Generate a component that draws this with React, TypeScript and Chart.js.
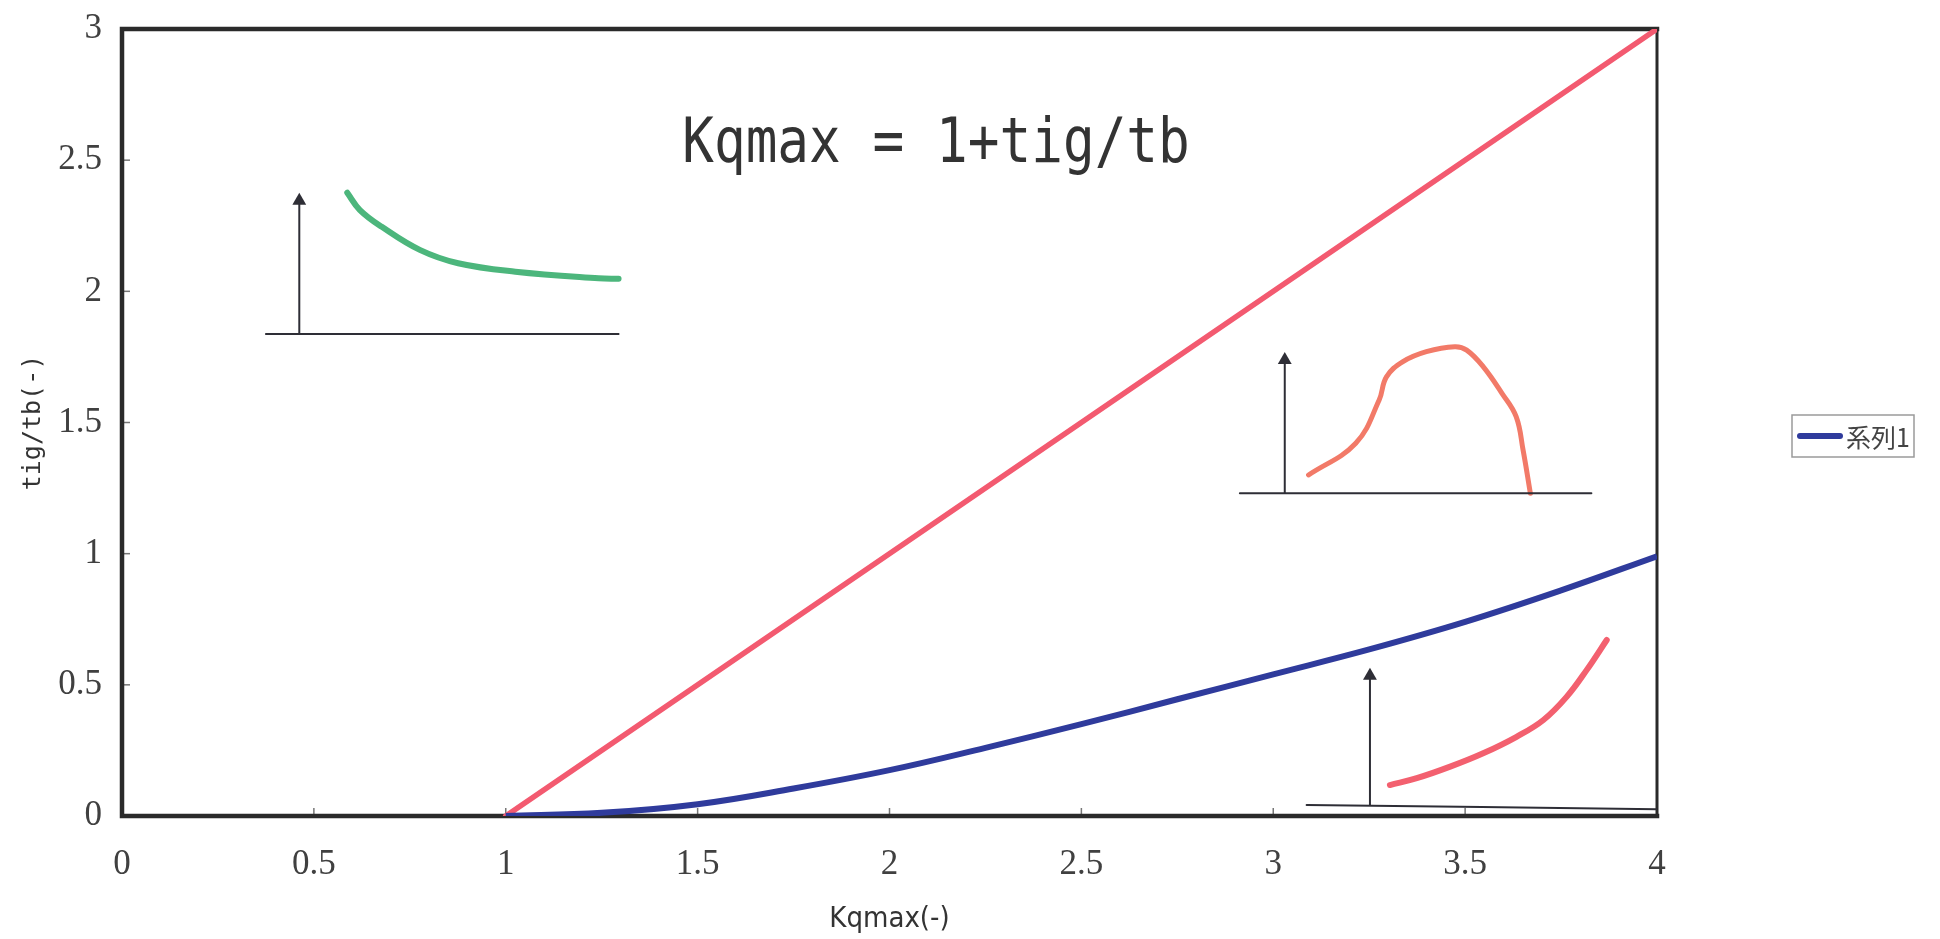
import React, { useEffect, useRef } from "react";
import { Chart, registerables } from "chart.js";

Chart.register(...registerables);

// ---- axis ticks ----
const xTickValues = [0, 0.5, 1, 1.5, 2, 2.5, 3, 3.5, 4];
const yTickValues = [0, 0.5, 1, 1.5, 2, 2.5, 3];

// ---- main series ----
const kqmax = [1, 1.25, 1.5, 1.75, 2, 2.25, 2.5, 2.75, 3, 3.25, 3.5, 3.75, 4];
const series1 = [0, 0.012, 0.045, 0.105, 0.175, 0.26, 0.35, 0.445, 0.54, 0.635, 0.74, 0.86, 0.99];
const seriesLabel = "系列1";

// boundary line Kqmax = 1 + tig/tb
const boundaryX = [1, 4.01];
const boundaryY = [0, 3.01];

// ---- inset sketch 1 (green, upper left) ----
const greenAxisX = [0.375, 1.294];
const greenAxisY = [1.837, 1.837];
const greenArrowX = [0.462, 0.462];
const greenArrowY = [1.837, 2.345];
const greenCurveX = [0.587, 0.62, 0.677, 0.776, 0.876, 1.025, 1.242, 1.294];
const greenCurveY = [2.376, 2.31, 2.246, 2.158, 2.107, 2.075, 2.05, 2.048];

// ---- inset sketch 2 (orange, middle right) ----
const orangeAxisX = [2.913, 3.829];
const orangeAxisY = [1.23, 1.23];
const orangeArrowX = [3.03, 3.03];
const orangeArrowY = [1.23, 1.738];
const orangeCurveX = [3.092, 3.215, 3.276, 3.295, 3.338, 3.399, 3.473, 3.504, 3.547, 3.596, 3.633, 3.651, 3.67];
const orangeCurveY = [1.3, 1.421, 1.586, 1.674, 1.732, 1.77, 1.789, 1.776, 1.713, 1.611, 1.522, 1.395, 1.23];

// ---- inset sketch 3 (red, lower right) ----
const redAxisX = [3.087, 3.999];
const redAxisY = [0.042, 0.026];
const redArrowX = [3.252, 3.252];
const redArrowY = [0.04, 0.535];
const redCurveX = [3.304, 3.374, 3.461, 3.547, 3.634, 3.704, 3.765, 3.817, 3.869];
const redCurveY = [0.118, 0.144, 0.188, 0.239, 0.302, 0.366, 0.455, 0.557, 0.671];

const formulaText = "Kqmax = 1+tig/tb";
const xTitle = "Kqmax(-)";
const yTitle = "tig/tb(-)";

const zip = (xs: number[], ys: number[]) => xs.map((x, i) => ({ x, y: ys[i] }));

const BLUE = "#2f3b9c";
const PINK = "#f35a70";
const GREEN = "#4cb67c";
const ORANGE = "#f27a68";
const RED2 = "#f3606f";
const INK = "#2e2e36";

const AREA = { left: 122, top: 29, right: 1657, bottom: 816 };

const sketchLine = (data: any[], color: string, width: number) => ({
  data,
  borderColor: color,
  backgroundColor: color,
  borderWidth: width,
  pointRadius: 0,
  tension: 0.4,
  borderCapStyle: "round" as const,
  borderJoinStyle: "round" as const,
  fill: false,
});

const arrow = (xs: number[], ys: number[]) => ({
  data: zip(xs, ys),
  borderColor: INK,
  backgroundColor: INK,
  borderWidth: 2,
  pointRadius: [0, 8],
  pointStyle: "triangle" as const,
  pointBorderWidth: 0,
  tension: 0,
  fill: false,
});

const decorPlugin = {
  id: "decor",
  beforeDatasetsDraw(chart: any) {
    const { ctx, chartArea: a, scales } = chart;
    ctx.save();
    ctx.strokeStyle = "#777";
    ctx.lineWidth = 1.5;
    xTickValues.forEach((v) => {
      const px = scales.x.getPixelForValue(v);
      ctx.beginPath();
      ctx.moveTo(px, a.bottom);
      ctx.lineTo(px, a.bottom - 8);
      ctx.stroke();
    });
    yTickValues.forEach((v) => {
      const py = scales.y.getPixelForValue(v);
      ctx.beginPath();
      ctx.moveTo(a.left, py);
      ctx.lineTo(a.left + 8, py);
      ctx.stroke();
    });
    ctx.strokeStyle = "#2a2a2a";
    ctx.lineCap = "square";
    ctx.lineWidth = 4.5;
    ctx.beginPath();
    ctx.moveTo(a.right, a.top);
    ctx.lineTo(a.left, a.top);
    ctx.lineTo(a.left, a.bottom);
    ctx.lineTo(a.right, a.bottom);
    ctx.stroke();
    ctx.lineWidth = 3;
    ctx.beginPath();
    ctx.moveTo(a.right, a.top);
    ctx.lineTo(a.right, a.bottom);
    ctx.stroke();
    ctx.restore();
  },
  afterDraw(chart: any) {
    const { ctx } = chart;
    ctx.save();
    ctx.fillStyle = "#333";
    ctx.textAlign = "center";
    ctx.textBaseline = "middle";
    ctx.font = "62px 'DejaVu Sans Mono'";
    ctx.translate(936, 146);
    ctx.scale(0.85, 1);
    ctx.fillText(formulaText, 0, 0);
    ctx.restore();

    const ds = chart.data.datasets[0];
    ctx.save();
    ctx.strokeStyle = "#9a9a9a";
    ctx.lineWidth = 1.5;
    ctx.strokeRect(1792, 415, 122, 42);
    ctx.strokeStyle = ds.borderColor;
    ctx.lineWidth = 6;
    ctx.lineCap = "round";
    ctx.beginPath();
    ctx.moveTo(1800, 436);
    ctx.lineTo(1840, 436);
    ctx.stroke();
    ctx.fillStyle = "#444";
    ctx.textAlign = "left";
    ctx.textBaseline = "middle";
    ctx.font = "25px 'Noto Sans CJK JP'";
    ctx.fillText(ds.label, 1846, 437);
    ctx.restore();
  },
};

export default function App() {
  const ref = useRef<HTMLCanvasElement | null>(null);

  useEffect(() => {
    if (!ref.current) return;
    const chart: any = new Chart(ref.current, {
      type: "line",
      data: {
        datasets: [
          {
            label: seriesLabel,
            data: zip(kqmax, series1),
            borderColor: BLUE,
            backgroundColor: BLUE,
            borderWidth: 6,
            pointRadius: 0,
            tension: 0.4,
            fill: false,
          },
          {
            label: "boundary",
            data: zip(boundaryX, boundaryY),
            borderColor: PINK,
            backgroundColor: PINK,
            borderWidth: 5.5,
            pointRadius: 0,
            tension: 0,
            borderCapStyle: "round",
            fill: false,
          },
          sketchLine(zip(greenAxisX, greenAxisY), INK, 2),
          arrow(greenArrowX, greenArrowY),
          sketchLine(zip(greenCurveX, greenCurveY), GREEN, 6),
          sketchLine(zip(orangeAxisX, orangeAxisY), INK, 2),
          arrow(orangeArrowX, orangeArrowY),
          sketchLine(zip(orangeCurveX, orangeCurveY), ORANGE, 5),
          sketchLine(zip(redAxisX, redAxisY), INK, 2),
          arrow(redArrowX, redArrowY),
          sketchLine(zip(redCurveX, redCurveY), RED2, 6),
        ] as any,
      },
      options: {
        responsive: false,
        maintainAspectRatio: false,
        animation: false,
        layout: { padding: { left: 0, top: AREA.top, right: 1940 - AREA.right, bottom: 0 } },
        plugins: {
          legend: { display: false },
          tooltip: { enabled: false },
        },
        elements: { line: { clip: false } as any },
        scales: {
          x: {
            type: "linear",
            min: 0,
            max: 4,
            afterBuildTicks: (s: any) => {
              s.ticks = xTickValues.map((v) => ({ value: v }));
            },
            afterFit: (s: any) => {
              s.height = 939 - AREA.bottom;
              s.paddingLeft = 0;
              s.paddingRight = 0;
            },
            grid: { display: false, drawTicks: false },
            border: { display: false },
            ticks: {
              autoSkip: false,
              maxRotation: 0,
              padding: 28,
              color: "#404040",
              font: { family: "'Liberation Serif', 'DejaVu Serif', serif", size: 35 },
              callback: (v: any) => String(v),
            },
            title: {
              display: true,
              text: xTitle,
              color: "#333",
              font: { family: "'Liberation Sans Narrow', 'DejaVu Sans Condensed', 'Roboto', sans-serif", size: 29 },
              padding: { top: 0, bottom: 2 },
            },
          },
          y: {
            type: "linear",
            min: 0,
            max: 3,
            afterBuildTicks: (s: any) => {
              s.ticks = yTickValues.map((v) => ({ value: v }));
            },
            afterFit: (s: any) => {
              s.width = AREA.left;
              s.paddingTop = 0;
              s.paddingBottom = 0;
            },
            grid: { display: false, drawTicks: false },
            border: { display: false },
            ticks: {
              autoSkip: false,
              padding: 20,
              color: "#404040",
              font: { family: "'Liberation Serif', 'DejaVu Serif', serif", size: 35 },
              callback: (v: any) => String(v),
            },
            title: {
              display: true,
              text: yTitle,
              color: "#333",
              font: { family: "'DejaVu Sans Mono', monospace", size: 25 },
              padding: { top: 18, bottom: 0 },
            },
          },
        },
      },
      plugins: [decorPlugin],
    });

    return () => chart.destroy();
  }, []);

  return (
    <div style={{ position: "fixed", left: 0, top: 0, width: 1940, height: 939, background: "#fff" }}>
      <canvas ref={ref} width={1940} height={939} style={{ display: "block", width: 1940, height: 939 }} />
    </div>
  );
}
